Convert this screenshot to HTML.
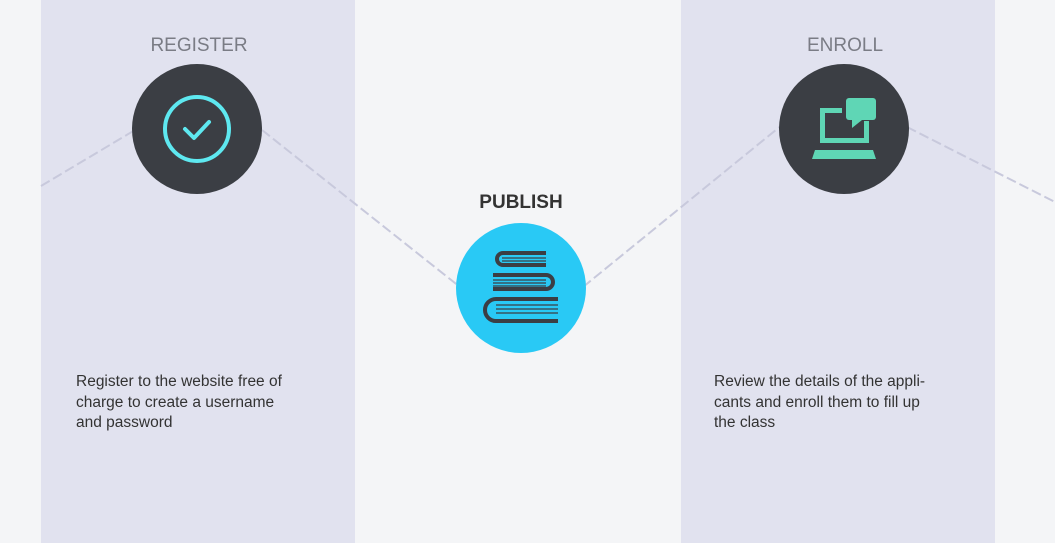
<!DOCTYPE html>
<html><head><style>
body{margin:0;width:1055px;height:543px;background:#f4f5f7;position:relative;overflow:hidden;font-family:"Liberation Sans",sans-serif}
.col{position:absolute;top:0;height:543px;width:314px;background:#e1e2ef}
.t{position:absolute;color:#333;font-size:15.5px;line-height:20.5px}
.h{position:absolute;font-size:19px;color:#7a7c85;text-align:center;width:200px}
</style></head><body>
<div class="col" style="left:41px"></div>
<div class="col" style="left:681px"></div>
<svg width="1055" height="543" style="position:absolute;left:0;top:0">
<g stroke="#c8c9dc" stroke-width="2" stroke-dasharray="10,4" fill="none">
<line x1="41" y1="186" x2="135" y2="130"/>
<line x1="262" y1="130" x2="460" y2="287"/>
<line x1="583" y1="287" x2="782" y2="125"/>
<line x1="907" y1="127" x2="1055" y2="202"/>
</g>
<circle cx="197" cy="129" r="65" fill="#3b3e44"/>
<circle cx="197" cy="129" r="32" fill="none" stroke="#5ee8f0" stroke-width="4"/>
<polyline points="185,129 194,138 209,122" fill="none" stroke="#5ee8f0" stroke-width="4" stroke-linecap="round" stroke-linejoin="round"/>
<circle cx="844" cy="129" r="65" fill="#3b3e44"/>
<g fill="#5fd6b5">
<rect x="820" y="108" width="5" height="34"/><rect x="820" y="108" width="22" height="5"/>
<rect x="820" y="138" width="49" height="5"/><rect x="864" y="121" width="5" height="22"/>
<path d="M815,150 h58 l3,9 h-64 z"/>
<rect x="846" y="98" width="30" height="22" rx="3"/><path d="M852,118 l0,10 l10,-8 z"/>
</g>
<circle cx="521" cy="288" r="65" fill="#29c9f5"/>
<g fill="none" stroke="#3b3e44" stroke-width="4">
<path d="M546,253 h-43 a6,6 0 0 0 0,12 h43"/>
<path d="M493,275 h53 a7,7 0 0 1 0,14 h-53"/>
<path d="M558,299 h-62 a11,11 0 0 0 0,22 h62"/>
</g>
<g stroke="#3b3e44" stroke-width="1.3">
<line x1="502" y1="258" x2="546" y2="258"/><line x1="502" y1="261" x2="546" y2="261"/>
<line x1="493" y1="280" x2="546" y2="280"/><line x1="493" y1="283" x2="546" y2="283"/><line x1="493" y1="286" x2="546" y2="286"/>
<line x1="496" y1="305" x2="558" y2="305"/><line x1="496" y1="309" x2="558" y2="309"/><line x1="496" y1="313" x2="558" y2="313"/>
</g>
</svg>
<div class="h" style="left:99px;top:35px">REGISTER</div>
<div class="h" style="left:745px;top:35px">ENROLL</div>
<div style="position:absolute;left:421px;top:192px;width:200px;text-align:center;font-weight:bold;font-size:19px;color:#333">PUBLISH</div>
<div class="t" style="left:76px;top:372px">Register to the website free of<br>charge to create a username<br>and password</div>
<div class="t" style="left:714px;top:372px">Review the details of the appli-<br>cants and enroll them to fill up<br>the class</div>
</body></html>
